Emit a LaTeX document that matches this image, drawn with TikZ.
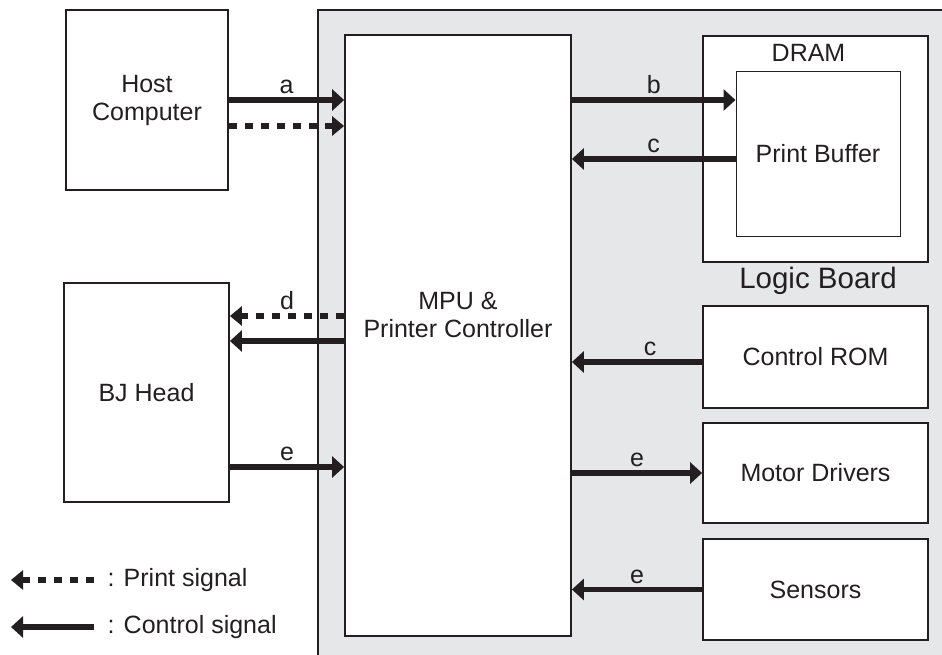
\documentclass[tikz,border=0pt]{standalone}
\usepackage{fontspec}
\setmainfont{Liberation Sans}
\usetikzlibrary{arrows.meta,positioning,calc}
\definecolor{boardgray}{RGB}{230,231,232}
\definecolor{inkblack}{RGB}{35,31,32}

\begin{document}
\begin{tikzpicture}[
    x=1pt, y=-1pt,
    every node/.style={font=\fontsize{25}{28}\selectfont, text=inkblack},
    block/.style={draw=inkblack, line width=1.8pt, fill=white, align=center, inner sep=0pt},
    sideblock/.style={block, minimum width=225pt},
    ctrlsig/.style={-{Triangle[length=12pt,width=21pt]}, line width=5.5pt, draw=inkblack},
    prtsig/.style={-{Triangle[length=12pt,width=19pt]}, line width=5.5pt, draw=inkblack, dash pattern=on 8pt off 8pt}
]
    \useasboundingbox (0,0) rectangle (942,655);
    \clip (0,0) rectangle (942,655);

    % Logic board background
    \filldraw[fill=boardgray, draw=inkblack, line width=1.6pt] (318,10) rectangle (970,680);
    \node[font=\fontsize{29.5}{32}\selectfont] (board) at (818,281) {Logic Board};

    % Main blocks
    \node[block, minimum width=162pt, minimum height=180pt] (host) at (147,100) {Host\\Computer};
    \node[block, minimum width=165pt, minimum height=219pt] (bj) at (146.5,392.5) {BJ Head};
    \node[block, minimum width=226pt, minimum height=601pt] (mpu) at (458,335.5) {};
    \node[align=center] (mputext) at (458,315) {MPU \&\\Printer Controller};

    % Memory and peripherals
    \node[sideblock, minimum height=226pt] (dram) at (815.5,149) {};
    \node (dramlbl) at ($(dram.north)+(-7,18)$) {DRAM};
    \node[block, line width=1pt, minimum width=164pt, minimum height=165pt] (buffer) at (818,154) {Print Buffer};
    \node[sideblock, minimum height=102pt] (rom) at (815.5,357) {Control ROM};
    \node[sideblock, minimum height=100pt] (motor) at (815.5,473) {Motor Drivers};
    \node[sideblock, minimum height=101pt] (sensors) at (815.5,589.5) {Sensors};

    % Host and head signals
    \draw[ctrlsig] (host.east) -- node[above] {a} (host.east -| mpu.west);
    \draw[prtsig] ($(host.east)+(0,26)$) -- ($(host.east -| mpu.west)+(0,26)$);
    \draw[prtsig] ($(mpu.west |- bj.east)+(0,-76.5)$) -- node[above] {d} ($(bj.east)+(0,-76.5)$);
    \draw[ctrlsig] ($(mpu.west |- bj.east)+(0,-51.5)$) -- ($(bj.east)+(0,-51.5)$);
    \draw[ctrlsig] ($(bj.east)+(0,74.5)$) -- node[above] {e} ($(bj.east -| mpu.west)+(0,74.5)$);

    % Board signals
    \draw[ctrlsig] (mpu.east |- host.east) -- node[above] {b} (buffer.west |- host.east);
    \draw[ctrlsig] ($(buffer.west)+(0,5)$) -- node[above] {c} ($(buffer.west -| mpu.east)+(0,5)$);
    \draw[ctrlsig] ($(rom.west)+(0,5)$) -- node[above, pos=0.4] {c} ($(rom.west -| mpu.east)+(0,5)$);
    \draw[ctrlsig] (mpu.east |- motor.west) -- node[above] {e} (motor.west);
    \draw[ctrlsig] (sensors.west) -- node[above] {e} (sensors.west -| mpu.east);

    % Legend
    \node[anchor=west] (prtkey) at (104,580) {: Print signal};
    \node[anchor=west] (ctrlkey) at (104,627) {: Control signal};
    \coordinate (prtend) at (11,580);
    \coordinate (ctrlend) at (11,627);
    \draw[prtsig, shorten <=10pt] (prtkey.west) -- (prtend);
    \draw[ctrlsig, shorten <=10pt] (ctrlkey.west) -- (ctrlend);
\end{tikzpicture}
\end{document}
